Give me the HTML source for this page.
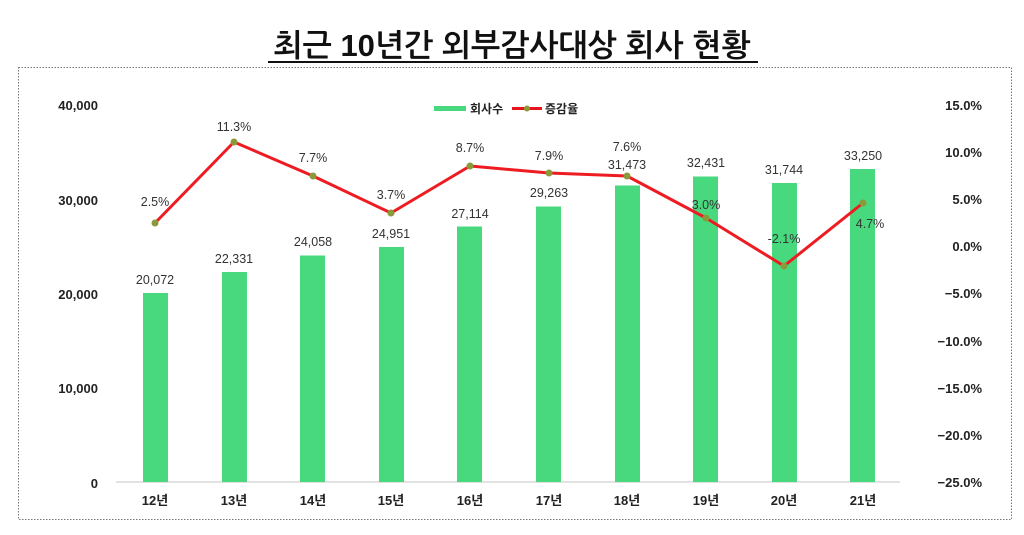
<!DOCTYPE html>
<html><head><meta charset="utf-8"><style>
body{margin:0;background:#fff;}
svg text{font-family:"Liberation Sans","Noto Sans CJK KR",sans-serif;}
</style></head><body>
<svg width="1024" height="530" xmlns="http://www.w3.org/2000/svg">
<text x="512" y="56" text-anchor="middle" font-size="31" font-weight="bold" fill="#111" style="font-family:'Liberation Sans','NanumGothic','Noto Sans CJK KR',sans-serif">최근 10년간 외부감사대상 회사 현황</text>
<line x1="268" y1="62" x2="758" y2="62" stroke="#111" stroke-width="2"/>
<rect x="18.5" y="67.5" width="993" height="452" fill="none" stroke="#777" stroke-dasharray="1.5,1.5"/>
<g font-size="13" font-weight="bold" fill="#222">
<text x="98" y="110" text-anchor="end">40,000</text>
<text x="98" y="205" text-anchor="end">30,000</text>
<text x="98" y="299" text-anchor="end">20,000</text>
<text x="98" y="393" text-anchor="end">10,000</text>
<text x="98" y="488" text-anchor="end">0</text>
<g text-anchor="end">
<text x="982" y="110">15.0%</text><text x="982" y="157">10.0%</text><text x="982" y="204">5.0%</text><text x="982" y="251">0.0%</text><text x="982" y="298">−5.0%</text><text x="982" y="346">−10.0%</text><text x="982" y="393">−15.0%</text><text x="982" y="440">−20.0%</text><text x="982" y="487">−25.0%</text>
</g>
</g>
<line x1="116" y1="482" x2="900" y2="482" stroke="#d9d9d9" stroke-width="1.5"/>
<g fill="#48d97e">
<rect x="143" y="293" width="25" height="189"/>
<rect x="222" y="272" width="25" height="210"/>
<rect x="300" y="255.5" width="25" height="226.5"/>
<rect x="379" y="247" width="25" height="235"/>
<rect x="457" y="226.5" width="25" height="255.5"/>
<rect x="536" y="206.5" width="25" height="275.5"/>
<rect x="615" y="185.5" width="25" height="296.5"/>
<rect x="693" y="176.5" width="25" height="305.5"/>
<rect x="772" y="183" width="25" height="299"/>
<rect x="850" y="169" width="25" height="313"/>
</g>
<g font-size="12.5" fill="#333" text-anchor="middle">
<text x="155" y="284">20,072</text><text x="234" y="263">22,331</text><text x="313" y="246">24,058</text><text x="391" y="238">24,951</text><text x="470" y="218">27,114</text><text x="549" y="197">29,263</text><text x="627" y="169">31,473</text><text x="706" y="167">32,431</text><text x="784" y="174">31,744</text><text x="863" y="160">33,250</text>
</g>
<text x="155" y="118" font-size="13" fill="#111" text-anchor="end"></text>
<g font-size="12" fill="#222" font-weight="bold">
<rect x="434" y="106" width="32" height="5" fill="#48d97e"/>
<text x="470" y="113">회사수</text>
<line x1="512" y1="108.5" x2="542" y2="108.5" stroke="#e8141b" stroke-width="3"/>
<circle cx="527" cy="108.5" r="3" fill="#8a9a3a"/>
<text x="545" y="113">증감율</text>
</g>
<polyline fill="none" stroke="#ee1c22" stroke-width="3" stroke-linejoin="round" points="155,223 234,142 313,176 391,213 470,166 549,173 627,176 706,218 784,266 863,203"/>
<g fill="#8a9a3a">
<circle cx="155" cy="223" r="3.5"/><circle cx="234" cy="142" r="3.5"/><circle cx="313" cy="176" r="3.5"/><circle cx="391" cy="213" r="3.5"/><circle cx="470" cy="166" r="3.5"/><circle cx="549" cy="173" r="3.5"/><circle cx="627" cy="176" r="3.5"/><circle cx="706" cy="218" r="3.5"/><circle cx="784" cy="266" r="3.5"/><circle cx="863" cy="203" r="3.5"/>
</g>
<g font-size="12.5" fill="#333" text-anchor="middle">
<text x="155" y="206">2.5%</text><text x="234" y="131">11.3%</text><text x="313" y="162">7.7%</text><text x="391" y="199">3.7%</text><text x="470" y="152">8.7%</text><text x="549" y="160">7.9%</text><text x="627" y="151">7.6%</text><text x="706" y="209">3.0%</text><text x="784" y="243">-2.1%</text><text x="870" y="228">4.7%</text>
</g>
<g font-size="13" font-weight="bold" fill="#222" text-anchor="middle">
<text x="155" y="505">12년</text><text x="234" y="505">13년</text><text x="313" y="505">14년</text><text x="391" y="505">15년</text><text x="470" y="505">16년</text><text x="549" y="505">17년</text><text x="627" y="505">18년</text><text x="706" y="505">19년</text><text x="784" y="505">20년</text><text x="863" y="505">21년</text>
</g>
</svg>
</body></html>
